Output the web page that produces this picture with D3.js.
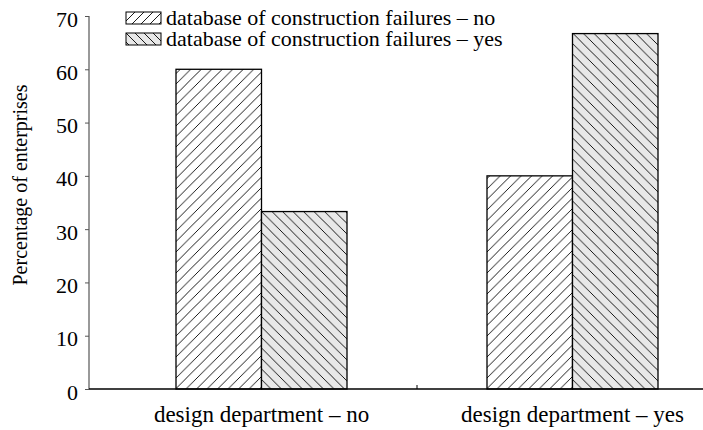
<!DOCTYPE html>
<html>
<head>
<meta charset="utf-8">
<script src="https://cdn.jsdelivr.net/npm/d3@7"></script>
<style>
  body { margin: 0; background: #fff; }
  svg text { font-family: "Liberation Serif", "Times New Roman", serif; fill: #000; }
</style>
</head>
<body>
<svg id="chart" width="703" height="430"></svg>
<script>
// data
var categories = ["design department \u2013 no", "design department \u2013 yes"];
var seriesNames = ["database of construction failures \u2013 no", "database of construction failures \u2013 yes"];
var valuesNo = [60, 40];
var valuesYes = [33.3, 66.7];
var yTicks = [0, 10, 20, 30, 40, 50, 60, 70];

var svg = d3.select("svg#chart"),
    width = +svg.attr("width"),
    height = +svg.attr("height");

var axisX = 89, zeroY = 389, topY = 16;
var serif = "'Liberation Serif', 'Times New Roman', serif";

//hatch patterns
var defs = svg.append("defs");
function hatch(id, fill, dir, size) {
  var p = defs.append("pattern")
      .attr("id", id)
      .attr("patternUnits", "userSpaceOnUse")
      .attr("width", size).attr("height", size);
  p.append("rect").attr("width", size).attr("height", size).attr("fill", fill);
  var d = dir > 0
    ? "M0," + size + "L" + size + ",0M-1,1L1,-1M" + (size - 1) + "," + (size + 1) + "L" + (size + 1) + "," + (size - 1)
    : "M0,0L" + size + "," + size + "M-1," + (size - 1) + "L1," + (size + 1) + "M" + (size - 1) + ",-1L" + (size + 1) + ",1";
  p.append("path").attr("d", d).attr("stroke", "#000").attr("stroke-width", 0.9);
}
hatch("h-no", "#ffffff", 1, 10.5);
hatch("h-yes", "#e8e8e8", -1, 10.5);
hatch("l-no", "#ffffff", 1, 9);
hatch("l-yes", "#e8e8e8", -1, 9);

var y = d3.scaleLinear().domain([0, 70]).range([zeroY, topY]);
var x0 = d3.scaleBand().domain(categories).range([106, 728]).paddingInner(0).paddingOuter(0);
var x1 = d3.scaleBand().domain(["no", "yes"]).range([0, 171]);
var groupOffset = (x0.bandwidth() - 171) / 2;

var rows = categories.map(function(c, i) {
  return { cat: c, vals: [{ key: "no", v: valuesNo[i] }, { key: "yes", v: valuesYes[i] }] };
});

//bars
var groups = svg.append("g").selectAll("g")
    .data(rows).enter().append("g")
    .attr("transform", function(d) { return "translate(" + (x0(d.cat) + groupOffset) + ",0)"; });

groups.selectAll("rect")
    .data(function(d) { return d.vals; })
    .enter().append("rect")
    .attr("x", function(d) { return x1(d.key); })
    .attr("y", function(d) { return y(d.v); })
    .attr("width", x1.bandwidth())
    .attr("height", function(d) { return zeroY - y(d.v); })
    .attr("fill", function(d) { return "url(#h-" + d.key + ")"; })
    .attr("stroke", "#000")
    .attr("stroke-width", 1.3);

//y axis
var yAxis = d3.axisLeft(y).tickValues(yTicks).tickSize(4).tickPadding(7);
var gy = svg.append("g").attr("transform", "translate(" + axisX + ",0)").call(yAxis);
gy.attr("font-family", null).attr("font-size", null);
gy.select(".domain").attr("stroke", "#777").attr("stroke-width", 1.5).attr("d", "M0," + topY + "V" + zeroY);
gy.selectAll(".tick line").attr("stroke", "#555");
gy.selectAll(".tick text").attr("dy", "0.46em").style("font-size", "22px").style("font-family", serif).attr("fill", "#000");

//x axis
var xAxis = d3.axisBottom(x0).tickSize(0).tickPadding(17);
var gx = svg.append("g").attr("transform", "translate(0," + zeroY + ")").call(xAxis);
gx.attr("font-family", null).attr("font-size", null);
gx.select(".domain").attr("d", "M" + axisX + ",0H" + width).attr("stroke", "#000").attr("stroke-width", 1.5);
gx.selectAll(".tick text").style("font-size", "23px").style("font-family", serif).attr("fill", "#000");
// divider tick between the groups
svg.append("line")
    .attr("x1", x0.range()[0] + x0.bandwidth()).attr("x2", x0.range()[0] + x0.bandwidth())
    .attr("y1", zeroY - 4).attr("y2", zeroY)
    .attr("stroke", "#000").attr("stroke-width", 1);

// y label
svg.append("text")
    .attr("transform", "translate(27,185) rotate(-90)")
    .attr("text-anchor", "middle")
    .style("font-size", "20px").style("font-family", serif)
    .text("Percentage of enterprises");

// legend
var legend = svg.append("g").selectAll("g")
    .data(seriesNames).enter().append("g")
    .attr("transform", function(d, i) { return "translate(126," + (12 + i * 21) + ")"; });
legend.append("rect")
    .attr("width", 35).attr("height", 12)
    .attr("fill", function(d, i) { return i === 0 ? "url(#l-no)" : "url(#l-yes)"; })
    .attr("stroke", "#000").attr("stroke-width", 1);
legend.append("text")
    .attr("x", 40).attr("y", 13)
    .style("font-size", "22px").style("font-family", serif)
    .text(function(d) { return d; });
</script>
</body>
</html>
